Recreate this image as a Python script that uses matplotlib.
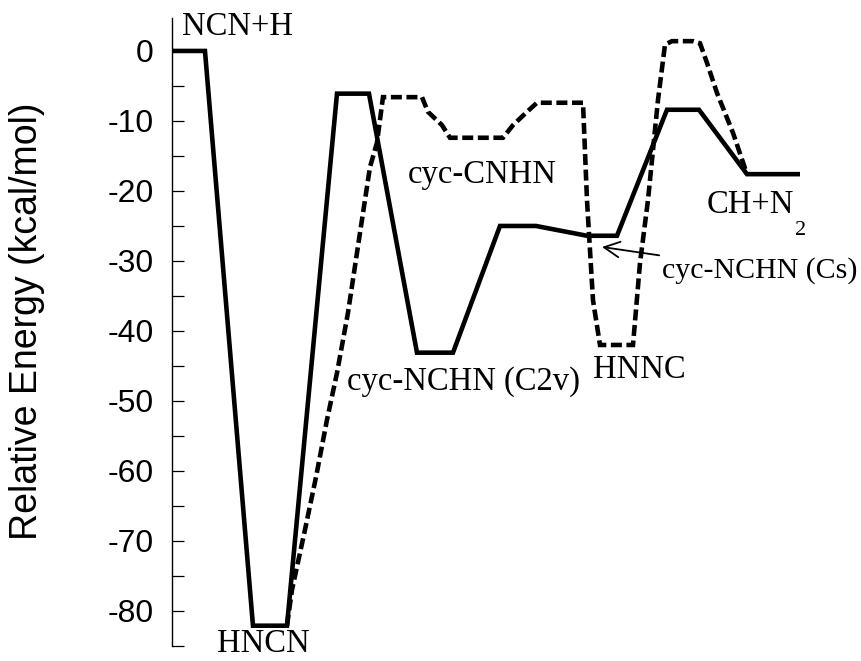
import matplotlib.pyplot as plt

plt.rcParams["axes.unicode_minus"] = False

# Reaction coordinate (arbitrary units) and energies in kcal/mol
solid_x = [0, 3.3, 8.1, 11.5, 16.5, 19.7, 24.5, 28.1, 32.8, 36.4, 41.5, 44.5, 49.5, 52.7, 57.5, 62.8]
solid_e = [0, 0, -82.1, -82.1, -6.1, -6.1, -43.1, -43.1, -25.0, -25.0, -26.4, -26.4, -8.4, -8.4, -17.6, -17.6]

dash_x = [11.5, 12.0, 13.3, 14.4, 15.5, 16.5, 17.6, 18.8, 19.8, 20.5, 21.1,
          25.0, 25.6, 27.0, 27.8, 33.1, 34.1, 35.5, 36.5, 41.1,
          41.5, 42.1, 42.8, 46.1, 46.8, 47.6, 48.6, 49.3, 50.0, 52.1,
          52.8, 53.5, 54.5, 56.1, 57.5]
dash_e = [-82.1, -77.0, -68.4, -60.9, -52.7, -46.0, -37.4, -26.0, -16.6, -13.1, -6.6,
          -6.6, -8.7, -10.6, -12.4, -12.4, -10.6, -8.7, -7.4, -7.4,
          -21.3, -35.6, -42.0, -42.0, -30.3, -21.3, -7.0, 0.9, 1.4, 1.4,
          1.1, -1.7, -6.0, -11.7, -17.6]

yticks_major = [0, -10, -20, -30, -40, -50, -60, -70, -80]
yticks_minor = [-5, -15, -25, -35, -45, -55, -65, -75, -85]

serif = "Liberation Serif"
label_size = 23.5

fig = plt.figure(figsize=(8.62, 6.61), dpi=100)
ax = fig.add_axes([0.1995, 0.0227, 0.8005, 0.950])

ax.plot(solid_x, solid_e, color="black", lw=3.3, solid_joinstyle="miter",
        solid_capstyle="butt")
ax.plot(dash_x, dash_e, color="black", lw=3.3, linestyle=(0, (2.4, 1.0)),
        dash_capstyle="butt", dash_joinstyle="miter")

ax.set_xlim(0, 69)
ax.set_ylim(-85, 4.7)
for side in ["top", "right", "bottom"]:
    ax.spines[side].set_visible(False)
ax.spines["left"].set_linewidth(1.0)
ax.set_xticks([])
ax.set_yticks(yticks_major)
ax.set_yticks(yticks_minor, minor=True)
ax.tick_params(axis="y", which="both", direction="in", length=8.5, width=0.9,
               pad=13)
ax.tick_params(axis="y", which="major", labelsize=23)
for lbl in ax.get_yticklabels():
    lbl.set_fontfamily("Liberation Sans")

fig.text(0.031, 0.514, "Relative Energy (kcal/mol)", rotation=90,
         ha="center", va="center", fontsize=27, family="Liberation Sans")

ax.text(1.0, 3.4, "NCN+H", ha="left", va="center", fontsize=label_size,
        family=serif)
ax.text(9.1, -84.7, "HNCN", ha="center", va="center", fontsize=label_size,
        family=serif)
ax.text(31.0, -17.7, "cyc-CNHN", ha="center", va="center",
        fontsize=label_size, family=serif)
ax.text(17.5, -47.3, "cyc-NCHN (C2v)", ha="left", va="center",
        fontsize=label_size, family=serif)
ax.text(42.1, -45.6, "HNNC", ha="left", va="center", fontsize=label_size,
        family=serif)
ax.text(53.5, -22.0, "CH+N", ha="left", va="center", fontsize=label_size,
        family=serif)
ax.text(62.3, -25.6, "2", ha="left", va="center", fontsize=16, family=serif)
ax.annotate("cyc-NCHN (Cs)", xy=(43.0, -28.0), xytext=(49.0, -31.3),
            ha="left", va="center", fontsize=21.5, family=serif,
            arrowprops=dict(arrowstyle="->", lw=1.3, color="black",
                            mutation_scale=28, shrinkA=0, shrinkB=0))

fig.savefig("out.png", dpi=100)
